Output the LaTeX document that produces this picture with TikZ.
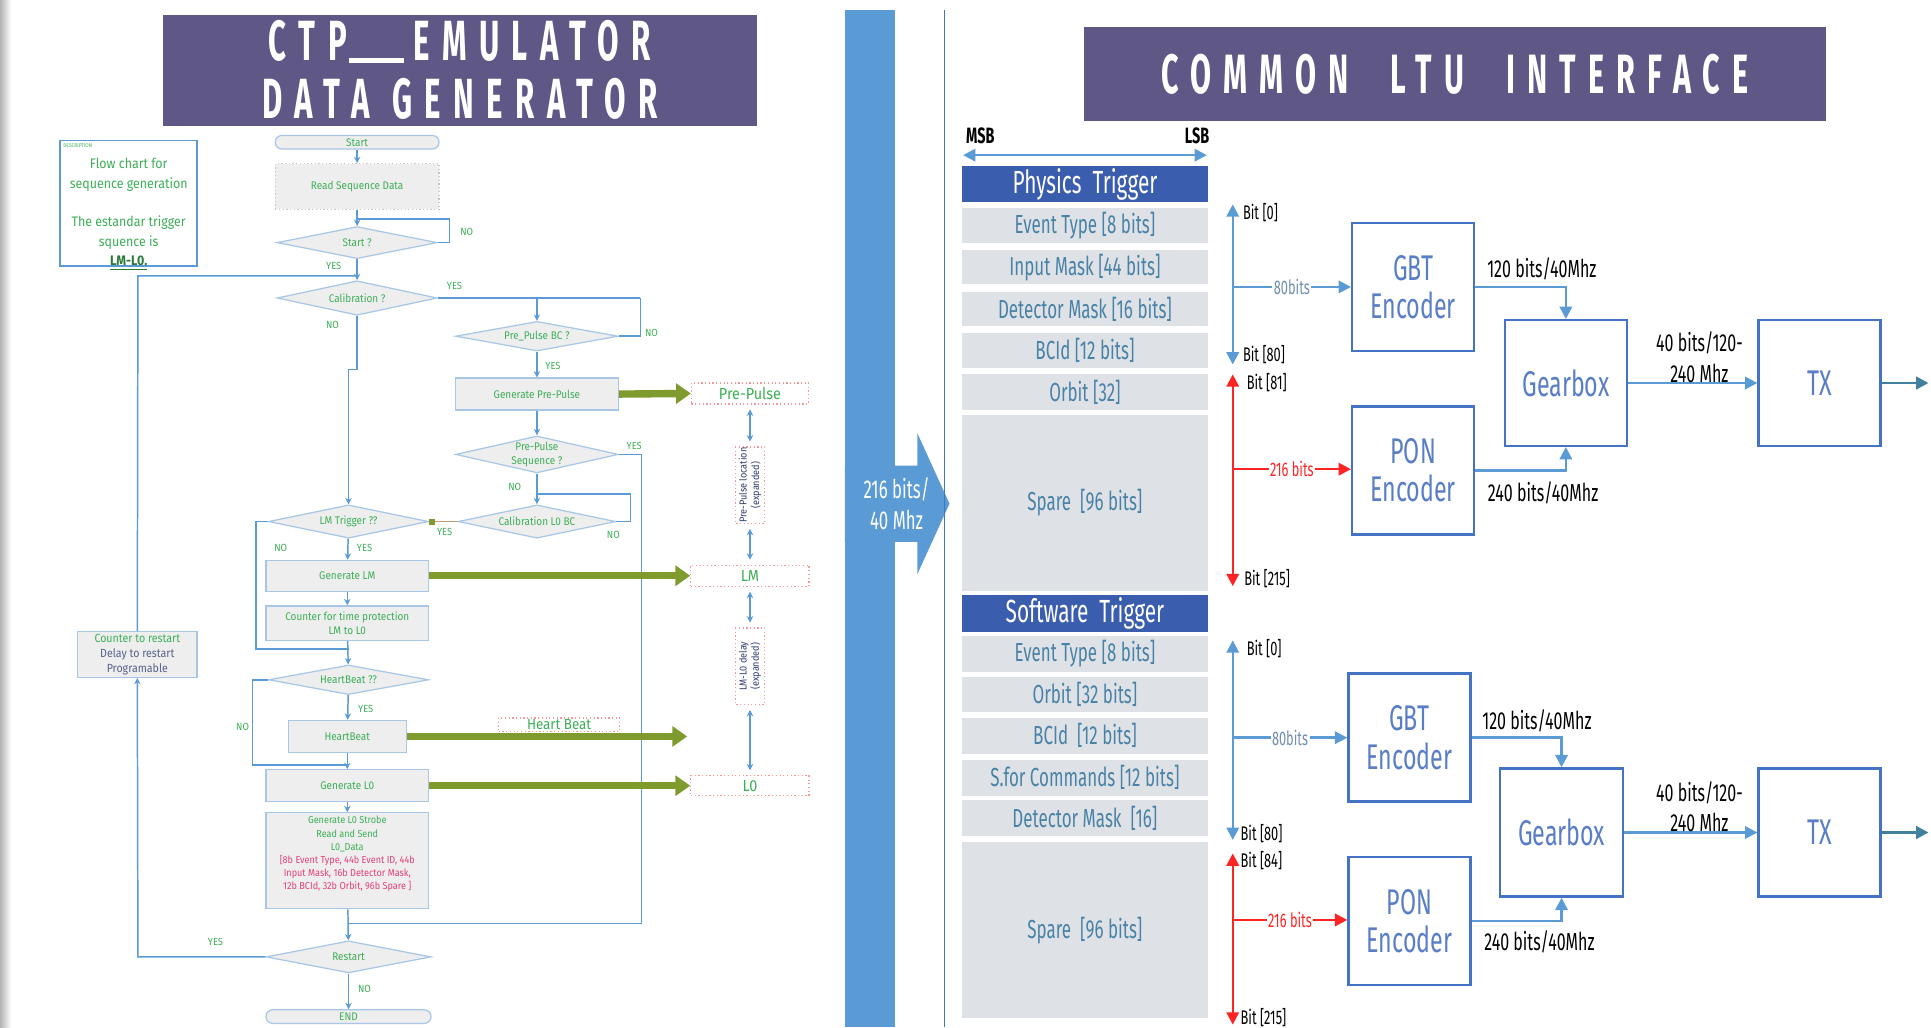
\documentclass[tikz,border=0pt]{standalone}
\usepackage{fontspec}
\setmainfont{Fira Sans}
\newfontfamily\cf{Fira Sans}[FakeStretch=0.65]
\newfontfamily\tf{Fira Sans}[FakeStretch=0.55,LetterSpace=22]
\newfontfamily\ff{Fira Sans}[FakeStretch=0.9]
\usetikzlibrary{arrows.meta,shapes.geometric,calc}
\definecolor{purpc}{HTML}{5F5785}
\definecolor{bandc}{HTML}{5B9BD5}
\definecolor{hdrc}{HTML}{3A5DAE}
\definecolor{rowg}{HTML}{DEE2E7}
\definecolor{rowt}{HTML}{4A82A6}
\definecolor{blkl}{HTML}{4472C4}
\definecolor{blkt}{HTML}{5A7EC6}
\definecolor{arrb}{HTML}{5B9BD5}
\definecolor{redc}{HTML}{FF2424}
\definecolor{tealc}{HTML}{41809E}
\definecolor{fline}{HTML}{5B9BD5}
\definecolor{fbord}{HTML}{A8C6E6}
\definecolor{ffill}{HTML}{EEEEEE}
\definecolor{fgreen}{HTML}{3DAF57}
\definecolor{olivec}{HTML}{7F9B2D}
\definecolor{dashr}{HTML}{F29A9A}
\definecolor{navyc}{HTML}{2E3A6E}
\definecolor{pinkr}{HTML}{E4407A}
\definecolor{lbl80}{HTML}{6F8FAE}
\begin{document}
\begin{tikzpicture}[x=0.5pt,y=-0.5pt,
  sz/.style 2 args={minimum width=#1*0.5pt, minimum height=#2*0.5pt},
  fl/.style={draw=fline, line width=0.6pt},
  fa/.style={fl, -{Stealth[length=2.6pt,width=2.6pt]}},
  fda/.style={fl, {Stealth[length=2.6pt,width=2.6pt]}-{Stealth[length=2.6pt,width=2.6pt]}, shorten >=2pt, shorten <=2pt},
  fbox/.style={draw=fbord, fill=ffill, line width=0.5pt, inner sep=0pt, align=center, text=fgreen, font=\ff\fontsize{4.5}{5.5}\selectfont},
  fdia/.style={diamond, draw=fbord, fill=ffill, line width=0.5pt, inner sep=0pt},
  flab/.style={text=fgreen, font=\ff\fontsize{4.5}{5.6}\selectfont, align=center, inner sep=0pt},
  yn/.style={text=fgreen, font=\ff\fontsize{4.2}{5}\selectfont, inner sep=0pt},
  dbox/.style={draw=dashr, densely dotted, line width=0.5pt, inner sep=0pt, text=fgreen, font=\ff\fontsize{6.5}{7}\selectfont, align=center},
  thickar/.style={line width=3pt, draw=olivec, -{Triangle[length=6pt,width=8pt]}},
  rowbox/.style={fill=rowg, minimum width=199*0.5pt, inner sep=0pt, text=rowt, font=\cf\fontsize{10.6}{12}\selectfont},
  hdrbox/.style={fill=hdrc, minimum width=199*0.5pt, inner sep=0pt, text=white, font=\cf\fontsize{13}{14}\selectfont},
  blk/.style={draw=blkl, line width=1pt, inner sep=0pt, text=blkt, align=center, font=\cf\fontsize{14.5}{15.5}\selectfont},
  bl/.style={text=black, inner sep=0pt, font=\cf\fontsize{10}{12.5}\selectfont, align=center},
  bitl/.style={text=black, inner sep=0pt, anchor=west, font=\cf\fontsize{8}{9}\selectfont},
  ra/.style={draw=arrb, line width=1pt, -{Triangle[length=5pt,width=5pt]}},
  rda/.style={draw=arrb, line width=1pt, {Triangle[length=5pt,width=5pt]}-{Triangle[length=5pt,width=5pt]}},
  reda/.style={draw=redc, line width=1pt, -{Triangle[length=5pt,width=5pt]}},
  redda/.style={draw=redc, line width=1pt, {Triangle[length=5pt,width=5pt]}-{Triangle[length=5pt,width=5pt]}}
]
\useasboundingbox (0,0) rectangle (1568,834);
\fill[white] (0,0) rectangle (1568,834);
\shade[left color=black!30, right color=white] (0,0) rectangle (9,834);

% ================= LEFT: flowchart =================
\node[fill=purpc, sz={483}{90}, text=white, align=center, inner sep=0pt,
      font=\tf\bfseries\fontsize{23}{23.5}\selectfont] (t1) at (373.5,57) {CTP\hspace{1pt}\rule[-1pt]{22pt}{2pt}\hspace{4pt}EMULATOR\\DATA\hspace{9pt}GENERATOR};

\node[draw=fline, line width=0.7pt, sz={111}{102}, inner sep=0pt] (desc) at (104.5,165) {};
\node[anchor=north west, text=fgreen, font=\ff\fontsize{2.2}{2.5}\selectfont, inner sep=0pt] at (51,116.5) {DESCRIPTION};
\node[flab, font=\ff\fontsize{5.6}{8}\selectfont, anchor=north] at (104.5,128) {Flow chart for\\sequence generation\\[7.5pt]The estandar trigger\\squence is\\\textcolor{fgreen!70!black}{\bfseries\underline{LM-L0.}}};

\node[fbox, rounded corners=2.7pt, sz={133}{11}] (start) at (290,115.5) {Start};
\node[fbox, draw=gray!45, densely dotted, sz={133}{37}] (read) at (290,151.5) {Read Sequence Data};
\node[fdia, sz={130}{26}] (startq) at (290,197) {};
\node[flab] at (startq) {Start ?};
\node[fdia, sz={130}{28}] (calq) at (290,242) {};
\node[flab] at (calq) {Calibration ?};
\node[fdia, sz={132}{24}] (ppbc) at (436,273) {};
\node[flab] at (ppbc) {Pre\_Pulse BC ?};
\node[fbox, sz={132}{26}] (genpp) at (436,320) {Generate Pre-Pulse};
\node[fdia, sz={132}{30}] (ppseq) at (436,369) {};
\node[flab] at (ppseq) {Pre-Pulse\\Sequence ?};
\node[fdia, sz={128}{27}] (call0) at (436,423.5) {};
\node[flab] at (call0) {Calibration L0 BC};
\node[fdia, sz={130}{27}] (lmq) at (283,423.5) {};
\node[flab] at (lmq) {LM Trigger ??};
\node[fbox, sz={132}{25}] (genlm) at (282,467.5) {Generate LM};
\node[fbox, sz={132}{28}] (counter) at (282,506) {Counter for time protection\\LM to L0};
\node[fdia, sz={130}{24}] (hbq) at (283,552) {};
\node[flab] at (hbq) {HeartBeat ??};
\node[fbox, sz={96}{26}] (hb) at (282,598) {HeartBeat};
\node[fbox, sz={132}{26}] (genl0) at (282,638) {Generate L0};
\node[fbox, sz={132}{78}] (strobe) at (282,699) {};
\node[flab, font=\ff\fontsize{4.1}{5.35}\selectfont, anchor=north] at ($(strobe.north)+(0,3)$) {Generate L0 Strobe\\Read and Send\\L0\_Data\\\textcolor{pinkr}{[8b Event Type, 44b Event ID, 44b}\\\textcolor{pinkr}{Input Mask, 16b Detector Mask,}\\\textcolor{pinkr}{12b BCId, 32b Orbit, 96b Spare ]}};
\node[fdia, sz={134}{26}] (restart) at (283,777) {};
\node[flab] at (restart) {Restart};
\node[fbox, rounded corners=2.7pt, sz={134}{11}] (endn) at (283,825.5) {END};
\node[fbox, sz={97}{37}, font=\ff\fontsize{4.8}{6}\selectfont] (ctr) at (111.5,531.5) {Counter to restart\\\textcolor{navyc!80}{Delay to restart}\\\textcolor{navyc!80}{Programable}};

% dashed output boxes
\node[dbox, sz={95}{17}] (ppbox) at (609,319.5) {Pre-Pulse};
\node[dbox, sz={96}{17}] (lmbox) at (609,467.5) {LM};
\node[dbox, sz={96}{16}] (l0box) at (609,638) {L0};
\node[dbox, sz={98}{11}, font=\ff\fontsize{6}{7}\selectfont] (hbl) at (454,588.5) {Heart Beat};
\node[dbox, rotate=90, sz={62}{24}, text=navyc, font=\ff\fontsize{4.1}{5}\selectfont] (ploc) at (609,394) {Pre-Pulse location\\(expanded)};
\node[dbox, rotate=90, sz={62}{24}, text=navyc, font=\ff\fontsize{4.1}{5}\selectfont] (lmdel) at (609,541) {LM-L0 delay\\(expanded)};
\coordinate (hbend) at (558,598);

% connectors
\draw[fa] (start) -- (read);
\draw[fa] (read) -- (startq);
\draw[fl] (startq.east) -- (365,197) -- (365,178) -- (290,178);
\draw[fa] (startq) -- (calq);
\draw[fa] (restart.west) -- (112,777) -- (ctr.south);
\draw[fl] (ctr.north) -- (112,224) -- (290,224);
\draw[fa] (calq.south) -- (290,300) -- (283,300) -- (lmq.north);
\draw[fl] (calq.east) -- (520,242);
\draw[fa] (436,242) -- (ppbc.north);
\draw[fl] (ppbc.east) -- (520,273) -- (520,242);
\draw[fa] (ppbc) -- (genpp);
\draw[fa] (genpp) -- (ppseq);
\draw[fl] (ppseq.east) -- (521,369) -- (521,750) -- (283,750);
\draw[fa] (ppseq) -- (call0);
\draw[fl] (call0.east) -- (512,423.5) -- (512,401) -- (436,401);
\draw[draw=dashr!60!olivec, line width=0.5pt, -{Square[length=2.4pt,width=2.4pt,color=olivec,fill=olivec]}] (call0.west) -- (lmq.east);
\draw[fl] (lmq.west) -- (208,423.5) -- (208,527) -- (283,527);
\draw[fa] (lmq) -- (genlm);
\draw[fa] (genlm) -- (counter);
\draw[fa] (counter) -- (hbq);
\draw[fl] (hbq.west) -- (205,552) -- (205,621) -- (283,621);
\draw[fa] (hbq) -- (hb);
\draw[fa] (hb.south) -- (hb.south |- genl0.north);
\draw[fa] (genl0) -- (strobe);
\draw[fa] (strobe) -- (restart);
\draw[fa] (restart) -- (endn);

\draw[thickar] (genpp.east) -- (ppbox.west);
\draw[thickar] (genlm.east) -- (lmbox.west);
\draw[thickar] (hb.east) -- (hbend);
\draw[thickar] (genl0.east) -- (l0box.west);

\draw[fda] (ppbox.south) -- (ploc.east);
\draw[fda] (ploc.west) -- (lmbox.north);
\draw[fda] (lmbox.south) -- (lmdel.east);
\draw[fda] (lmdel.west) -- (l0box.north);

% yes / no labels
\node[yn] at (379,188) {NO};
\node[yn] at (271,216) {YES};
\node[yn] at (369,232) {YES};
\node[yn] at (270,264) {NO};
\node[yn] at (529,270) {NO};
\node[yn] at (449,297) {YES};
\node[yn] at (515,362) {YES};
\node[yn] at (418,395) {NO};
\node[yn] at (361,432) {YES};
\node[yn] at (498,434) {NO};
\node[yn] at (228,445) {NO};
\node[yn] at (296,445) {YES};
\node[yn] at (297,576) {YES};
\node[yn] at (197,590) {NO};
\node[yn] at (175,765) {YES};
\node[yn] at (296,803) {NO};

% ================= MIDDLE =================
\fill[bandc] (686,8) rectangle (727,834);
\fill[bandc] (686,378) -- (745,378) -- (745,352) -- (771,409) -- (745,466) -- (745,440) -- (686,440) -- cycle;
\node[text=white, inner sep=0pt, align=center, font=\cf\fontsize{10.5}{12.5}\selectfont] (bw) at (728,409) {216 bits/\\40 Mhz};
\draw[blkl, line width=0.6pt] (767,8) -- (767,834);

% ================= RIGHT =================
\node[fill=purpc, sz={603}{76}, text=white, inner sep=0pt,
      font=\tf\bfseries\fontsize{22.5}{24}\selectfont] (t2) at (1181.5,60) {COMMON\hspace{17pt}LTU\hspace{17pt}INTERFACE};

\node[text=black, inner sep=0pt, font=\cf\bfseries\fontsize{9}{10}\selectfont] (msb) at (796,110) {MSB};
\node[text=black, inner sep=0pt, font=\cf\bfseries\fontsize{9}{10}\selectfont] (lsb) at (972,110) {LSB};
\coordinate (ml) at (782,126);
\coordinate (mr) at (980,126);
\draw[rda] (ml) -- (mr);

\node[hdrbox, minimum height=29*0.5pt] (ph) at (881,149.5) {Physics\ \ Trigger};
\node[rowbox, minimum height=28*0.5pt] (p1) at (881,183) {Event Type [8 bits]};
\node[rowbox, minimum height=28*0.5pt] (p2) at (881,217) {Input Mask [44 bits]};
\node[rowbox, minimum height=28*0.5pt] (p3) at (881,251) {Detector Mask [16 bits]};
\node[rowbox, minimum height=28*0.5pt] (p4) at (881,284.5) {BCId [12 bits]};
\node[rowbox, minimum height=29*0.5pt] (p5) at (881,318.5) {Orbit [32]};
\node[rowbox, minimum height=143*0.5pt] (p6) at (881,408.5) {Spare\ \ [96 bits]};
\node[hdrbox, minimum height=30*0.5pt] (sw) at (881,498) {Software\ \ Trigger};
\node[rowbox, minimum height=29*0.5pt] (s1) at (881,531) {Event Type [8 bits]};
\node[rowbox, minimum height=28*0.5pt] (s2) at (881,564) {Orbit [32 bits]};
\node[rowbox, minimum height=29*0.5pt] (s3) at (881,597.5) {BCId\ \ [12 bits]};
\node[rowbox, minimum height=29*0.5pt] (s4) at (881,631.5) {S.for Commands [12 bits]};
\node[rowbox, minimum height=29*0.5pt] (s5) at (881,664.5) {Detector Mask\ \ [16]};
\node[rowbox, minimum height=143*0.5pt] (s6) at (881,755.5) {Spare\ \ [96 bits]};

% upper encoder group
\node[blk, sz={99}{104}] (gbt1) at (1147.5,233) {GBT\\Encoder};
\node[blk, sz={99}{104}] (pon1) at (1147.5,382) {PON\\Encoder};
\node[blk, sz={99}{102}] (gear1) at (1271.5,311) {Gearbox};
\node[blk, sz={99}{102}] (tx1) at (1477.5,311) {TX};
\coordinate (u0) at (1001,166);
\coordinate (u80) at (1001,296);
\coordinate (u81) at (1001,304);
\coordinate (u215) at (1001,476);
\coordinate (ub) at (1001,233);
\coordinate (ur) at (1001,381);
\coordinate (out1) at (1566,311);
\draw[rda] (u0) -- (u80);
\draw[redda] (u81) -- (u215);
\draw[ra] (ub) -- node[fill=white, inner sep=0.6pt, text=lbl80, font=\cf\fontsize{8}{9}\selectfont] {80bits} (ub -| gbt1.west);
\draw[reda] (ur) -- node[fill=white, inner sep=0.6pt, text=redc, font=\cf\fontsize{8}{9}\selectfont] {216 bits} (ur -| pon1.west);
\node[bitl] at (1009,173) {Bit [0]};
\node[bitl] at (1009,288) {Bit [80]};
\node[bitl] at (1012,311) {Bit [81]};
\node[bitl] at (1010,470) {Bit [215]};
\draw[ra] (gbt1.east) -| (gear1.north);
\draw[ra] (pon1.east) -| (gear1.south);
\draw[ra] (gear1.east) -- (tx1.west);
\draw[draw=tealc, line width=1.2pt, -{Triangle[length=5pt,width=5pt]}] (tx1.east) -- (out1);
\node[bl] at (1252,218) {120 bits/40Mhz};
\node[bl] at (1253,400) {240 bits/40Mhz};
\node[bl] at (1380,290) {40 bits/120-\\240 Mhz};

% lower encoder group
\node[blk, sz={99}{104}] (gbt2) at (1144.5,599) {GBT\\Encoder};
\node[blk, sz={99}{104}] (pon2) at (1144.5,748) {PON\\Encoder};
\node[blk, sz={100}{104}] (gear2) at (1268,676) {Gearbox};
\node[blk, sz={99}{104}] (tx2) at (1477.5,676) {TX};
\coordinate (l0) at (1001,520);
\coordinate (l80) at (1001,682);
\coordinate (l84) at (1001,693);
\coordinate (l215) at (1001,832);
\coordinate (lb) at (1001,599);
\coordinate (lr) at (1001,747);
\coordinate (out2) at (1566,676);
\draw[rda] (l0) -- (l80);
\draw[redda] (l84) -- (l215);
\draw[ra] (lb) -- node[fill=white, inner sep=0.6pt, text=lbl80, font=\cf\fontsize{8}{9}\selectfont] {80bits} (lb -| gbt2.west);
\draw[reda] (lr) -- node[fill=white, inner sep=0.6pt, text=redc, font=\cf\fontsize{8}{9}\selectfont] {216 bits} (lr -| pon2.west);
\node[bitl] at (1012,527) {Bit [0]};
\node[bitl] at (1007,677) {Bit [80]};
\node[bitl] at (1007,699) {Bit [84]};
\node[bitl] at (1007,826) {Bit [215]};
\draw[ra] (gbt2.east) -| (gear2.north);
\draw[ra] (pon2.east) -| (gear2.south);
\draw[ra] (gear2.east) -- (tx2.west);
\draw[draw=tealc, line width=1.2pt, -{Triangle[length=5pt,width=5pt]}] (tx2.east) -- (out2);
\node[bl] at (1248,585) {120 bits/40Mhz};
\node[bl] at (1250,765) {240 bits/40Mhz};
\node[bl] at (1380,655) {40 bits/120-\\240 Mhz};
\end{tikzpicture}
\end{document}
